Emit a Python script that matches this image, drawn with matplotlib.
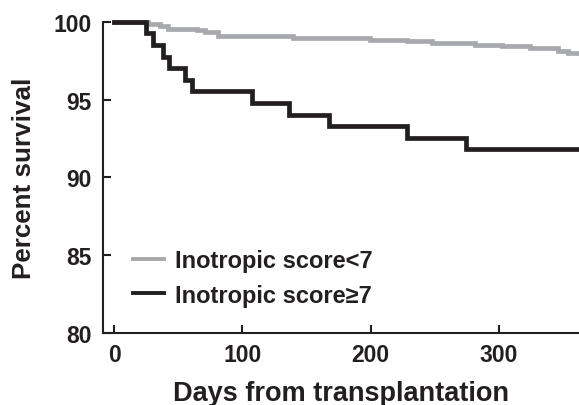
import matplotlib
matplotlib.use("Agg")
import matplotlib.pyplot as plt

plt.rcParams['font.family'] = ['Liberation Sans', 'DejaVu Sans']
plt.rcParams['font.weight'] = 'bold'

# Data
low_days = [0, 26.8, 35.9, 42.3, 64.4, 70.9, 81.3, 139.8, 199.5, 228, 247.6, 281.4, 302.2, 324.2, 346.3, 354.1, 365]
low_pct = [100, 99.85, 99.72, 99.55, 99.45, 99.36, 99.1, 98.95, 98.85, 98.74, 98.63, 98.53, 98.42, 98.29, 98.12, 98.01, 98.01]
high_days = [0, 24.7, 30.7, 38.5, 42.9, 55.3, 60.5, 107.3, 136.7, 167.9, 228.6, 274, 365]
high_pct = [100, 99.26, 98.5, 97.76, 97.0, 96.27, 95.52, 94.78, 94.03, 93.28, 92.54, 91.8, 91.8]
labels = ['Inotropic score<7', 'Inotropic score\u22657']
xticks = [0, 100, 200, 300]
yticks = [80, 85, 90, 95, 100]

gray = '#a7a9ac'
black = '#231f20'

fig = plt.figure(figsize=(5.79, 4.06), dpi=100)
ax = fig.add_axes([103/579, 1-334/406, 1-103/579, (334-22.7)/406])

ax.plot(low_days, low_pct, drawstyle='steps-post', color=gray, lw=3.4,
        solid_joinstyle='miter', clip_on=False, label=labels[0], zorder=2)
ax.plot(high_days, high_pct, drawstyle='steps-post', color=black, lw=3.4,
        solid_joinstyle='miter', clip_on=False, label=labels[1], zorder=3)

ax.set_xlim(-8.6, 362.4)
ax.set_ylim(80, 100)
ax.set_xticks(xticks)
ax.set_yticks(yticks)
for s in ['top', 'right']:
    ax.spines[s].set_visible(False)
for s in ['left', 'bottom']:
    ax.spines[s].set_linewidth(1.5)
    ax.spines[s].set_color(black)
ax.tick_params(direction='in', length=6, width=1.5, color=black,
               labelsize=16.5, labelcolor=black)
ax.tick_params(axis='y', pad=8)
ax.tick_params(axis='x', pad=7)
for t in ax.get_xticklabels() + ax.get_yticklabels():
    t.set_fontweight('bold')

ax.set_xlabel('Days from transplantation', fontsize=19.5, fontweight='bold', color=black, labelpad=10)
ax.set_ylabel('Percent survival', fontsize=18.7, fontweight='bold', color=black, labelpad=13)

leg = ax.legend(loc='upper left', bbox_to_anchor=(121/579, 1-238/406),
                bbox_transform=fig.transFigure, frameon=False,
                prop={'size': 17, 'weight': 'bold'}, handlelength=1.3,
                handletextpad=0.5, labelspacing=0.5, borderpad=0)
for line in leg.get_lines():
    line.set_linewidth(2.8)
for t in leg.get_texts():
    t.set_color(black)

fig.savefig('out.png', dpi=100)
